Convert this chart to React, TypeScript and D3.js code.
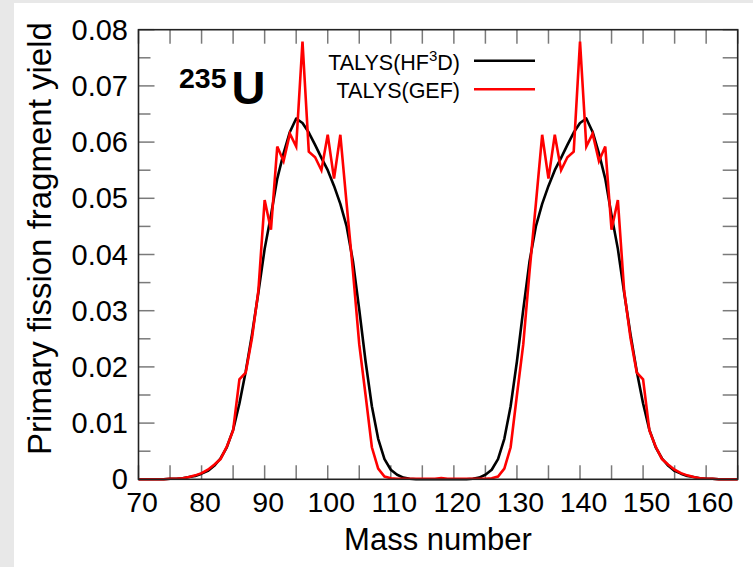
import React from "react";
import * as d3 from "d3";

const massNumbers = [
  70, 71, 72, 73, 74, 75, 76, 77, 78, 79, 80, 81, 82, 83, 84, 85, 86, 87, 88, 89,
  90, 91, 92, 93, 94, 95, 96, 97, 98, 99, 100, 101, 102, 103, 104, 105, 106, 107, 108, 109,
  110, 111, 112, 113, 114, 115, 116, 117, 118, 119, 120, 121, 122, 123, 124, 125, 126, 127, 128, 129,
  130, 131, 132, 133, 134, 135, 136, 137, 138, 139, 140, 141, 142, 143, 144, 145, 146, 147, 148, 149,
  150, 151, 152, 153, 154, 155, 156, 157, 158, 159, 160, 161, 162, 163, 164, 165,
];

const yieldHF3D = [
  0, 0, 0, 0, 0, 0.0001, 0.0001, 0.0002, 0.0004, 0.0006, 0.001, 0.0015, 0.0024, 0.0037, 0.0057, 0.0088, 0.0135, 0.0192, 0.0258, 0.0332,
  0.041, 0.047, 0.0535, 0.058, 0.0618, 0.0642, 0.0634, 0.0617, 0.0595, 0.0572, 0.055, 0.0522, 0.049, 0.045, 0.0388, 0.0302, 0.021, 0.013, 0.0072, 0.0036,
  0.0017, 0.0008, 0.0003, 0.0001, 0, 0, 0, 0, 0, 0, 0, 0, 0, 0.0001, 0.0003, 0.0008, 0.0017, 0.0036, 0.0072, 0.013,
  0.021, 0.0302, 0.0388, 0.045, 0.049, 0.0522, 0.055, 0.0572, 0.0595, 0.0617, 0.0634, 0.0642, 0.0618, 0.058, 0.0535, 0.047, 0.041, 0.0332, 0.0258, 0.0192,
  0.0135, 0.0088, 0.0057, 0.0037, 0.0024, 0.0015, 0.001, 0.0006, 0.0004, 0.0002, 0.0001, 0.0001, 0, 0, 0, 0,
];

const yieldGEF = [
  0, 0, 0, 0, 0, 0.0001, 0.0001, 0.0002, 0.0004, 0.0007, 0.0011, 0.0017, 0.0026, 0.0036, 0.0058, 0.0087, 0.0178, 0.019, 0.0252, 0.0335,
  0.0497, 0.0444, 0.0592, 0.0566, 0.0615, 0.0592, 0.0779, 0.0583, 0.0573, 0.055, 0.0613, 0.0535, 0.0613, 0.049, 0.037, 0.024, 0.015, 0.0057, 0.0019, 0.0005,
  0.0002, 0.0001, 0.0001, 0.0001, 0.0001, 0.0001, 0.0001, 0.0001, 0.0002, 0.0001, 0.0001, 0.0001, 0.0001, 0.0001, 0.0001, 0.0001, 0.0002, 0.0005, 0.0019, 0.0057,
  0.015, 0.024, 0.037, 0.049, 0.0613, 0.0535, 0.0613, 0.055, 0.0573, 0.0583, 0.0779, 0.0592, 0.0615, 0.0566, 0.0592, 0.0444, 0.0497, 0.0335, 0.0252, 0.019,
  0.0178, 0.0087, 0.0058, 0.0036, 0.0026, 0.0017, 0.0011, 0.0007, 0.0004, 0.0002, 0.0001, 0.0001, 0, 0, 0, 0,
];

const xTickValues = [70, 75, 80, 85, 90, 95, 100, 105, 110, 115, 120, 125, 130, 135, 140, 145, 150, 155, 160, 165];
const xLabelValues = [70, 80, 90, 100, 110, 120, 130, 140, 150, 160];
const yMajorTicks = [0, 0.01, 0.02, 0.03, 0.04, 0.05, 0.06, 0.07, 0.08];
const yMinorTicks = [0.005, 0.015, 0.025, 0.035, 0.045, 0.055, 0.065, 0.075];
const yTickLabels = ["0", "0.01", "0.02", "0.03", "0.04", "0.05", "0.06", "0.07", "0.08"];

const FONT = "'Liberation Sans', Arial, Helvetica, sans-serif";

export default function App() {
  const W = 753;
  const H = 567;
  const left = 138.5;
  const right = 737.7;
  const top = 29.7;
  const bottom = 479.3;

  const x = d3.scaleLinear().domain([70, 165]).range([left, right]);
  const y = d3.scaleLinear().domain([0, 0.08]).range([bottom, top]);

  const lineGen = d3
    .line<number>()
    .x((_, i) => x(massNumbers[i]))
    .y((d) => y(d));

  const tickColor = "#7a7a7a";
  const xt = 14;

  return (
    <svg
      width={W}
      height={H}
      style={{ position: "absolute", left: 0, top: 0, display: "block" }}
      fontFamily={FONT}
    >
      <rect x={0} y={0} width={W} height={H} fill="#e8e8e8" />
      <rect x={14} y={3} width={W - 14} height={H - 3} fill="#ffffff" />

      {xTickValues.map((v) => (
        <g key={"xt" + v} stroke={tickColor} strokeWidth={1.5}>
          <line x1={x(v)} x2={x(v)} y1={bottom} y2={bottom - xt} />
          <line x1={x(v)} x2={x(v)} y1={top} y2={top + xt} />
        </g>
      ))}
      {yMajorTicks.map((v) => (
        <g key={"yM" + v} stroke={tickColor} strokeWidth={1.5}>
          <line x1={left} x2={left + 16} y1={y(v)} y2={y(v)} />
          <line x1={right} x2={right - 15} y1={y(v)} y2={y(v)} />
        </g>
      ))}
      {yMinorTicks.map((v) => (
        <g key={"ym" + v} stroke={tickColor} strokeWidth={1.5}>
          <line x1={left} x2={left + 12} y1={y(v)} y2={y(v)} />
          <line x1={right} x2={right - 15} y1={y(v)} y2={y(v)} />
        </g>
      ))}

      <path d={lineGen(yieldHF3D) || ""} fill="none" stroke="#000000" strokeWidth={2.6} strokeLinejoin="round" />
      <path d={lineGen(yieldGEF) || ""} fill="none" stroke="#ff0000" strokeWidth={2.6} strokeLinejoin="miter" />

      <rect x={left} y={top} width={right - left} height={bottom - top} fill="none" stroke="#222" strokeWidth={1.6} />

      {xLabelValues.map((v) => (
        <text key={"xl" + v} x={x(v) + 3.5} y={511.8} textAnchor="middle" fontSize={28.5} fill="#000">
          {v}
        </text>
      ))}
      {yMajorTicks.map((v, i) => (
        <text key={"yl" + v} x={128} y={y(v) + 10} textAnchor="end" fontSize={29} fill="#000">
          {yTickLabels[i]}
        </text>
      ))}

      <text x={438} y={550} textAnchor="middle" fontSize={31} fill="#000">
        Mass number
      </text>
      <text
        transform={`translate(51,238.5) rotate(-90)`}
        textAnchor="middle"
        fontSize={33}
        fill="#000"
      >
        Primary fission fragment yield
      </text>

      <text x={179} y={88} fontSize={28.5} fontWeight="bold" fill="#000">
        235
      </text>
      <text x={231.5} y={103.5} fontSize={47} fontWeight="bold" fill="#000">
        U
      </text>

      <text x={460} y={69.7} textAnchor="end" fontSize={21.5} fill="#000">
        TALYS(HF<tspan fontSize={15} dy={-8.5}>3</tspan>
        <tspan dy={8.5}>D)</tspan>
      </text>
      <line x1={474} x2={535} y1={60.7} y2={60.7} stroke="#000" strokeWidth={2.6} />
      <text x={460} y={98.3} textAnchor="end" fontSize={21.5} fill="#000">
        TALYS(GEF)
      </text>
      <line x1={474} x2={535} y1={89.3} y2={89.3} stroke="#ff0000" strokeWidth={2.6} />
    </svg>
  );
}
